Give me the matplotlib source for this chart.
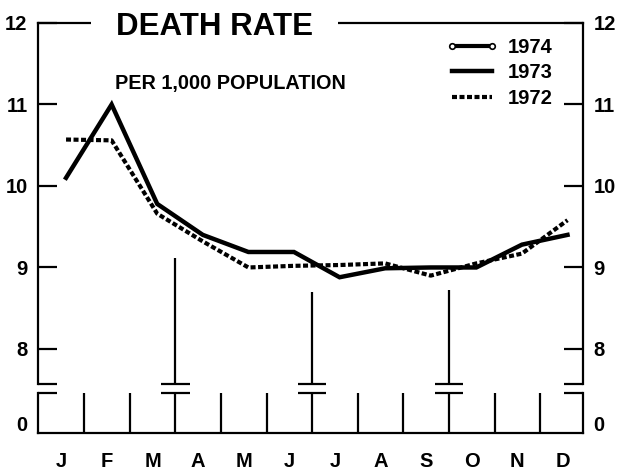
import numpy as np
import matplotlib
matplotlib.use("Agg")
import matplotlib.pyplot as plt
from matplotlib.lines import Line2D

# chart data
months = ["J", "F", "M", "A", "M", "J", "J", "A", "S", "O", "N", "D"]
rate_1973 = [10.1, 11.0, 9.78, 9.4, 9.19, 9.19, 8.88, 8.99, 9.0, 9.0, 9.28, 9.4]
rate_1972 = [10.57, 10.56, 9.66, 9.32, 9.0, 9.02, 9.03, 9.05, 8.9, 9.05, 9.17, 9.58]
legend_labels = ["1974", "1973", "1972"]
y_ticks = [8, 9, 10, 11, 12]
quarter_ends = [2, 5, 8]            # month index after which a quarter bar stands
quarter_bar_tops = [9.12, 8.70, 8.72]

plt.rcParams["font.family"] = ["Liberation Sans", "DejaVu Sans"]
plt.rcParams["font.weight"] = "bold"

W, H = 622, 470
fig = plt.figure(figsize=(W / 100, H / 100), dpi=100)
left, right = 38, 583
ax = fig.add_axes([left / W, 1 - 384 / H, (right - left) / W, (384 - 23) / H])
axb = fig.add_axes([left / W, 1 - 433 / H, (right - left) / W, (433 - 393) / H], sharex=ax)

up_lo, up_hi = 7.57, 12
lo_lo, lo_hi = -0.12, 0.37

x = np.arange(len(months))
ax.plot(x + 0.1, rate_1973, color="black", lw=3.2, solid_joinstyle="miter")
ax.plot(x + 0.1, rate_1972, color="black", lw=3.0, linestyle=(0, (1.2, 0.6)),
        dash_capstyle="butt")

ax.set_xlim(-0.515, 11.44)
ax.set_ylim(up_lo, up_hi)
axb.set_ylim(lo_lo, lo_hi)

for a in (ax, axb):
    for s in a.spines.values():
        s.set_linewidth(1.6)
ax.spines["bottom"].set_visible(False)
axb.spines["top"].set_visible(False)

# upper part of the broken axis
ax.set_yticks(y_ticks)
ax.set_yticks([up_lo], minor=True)
ax.tick_params(axis="y", which="both", direction="in", length=14, width=1.6,
               left=True, right=True, labelleft=True, labelright=True,
               labelsize=14.5, pad=7.5)
ax.tick_params(axis="x", which="both", bottom=False, labelbottom=False)

# lower part with the zero
axb.set_yticks([0])
axb.set_yticks([lo_hi], minor=True)
axb.tick_params(axis="y", which="major", length=0, left=True, right=True,
                labelleft=True, labelright=True, labelsize=14.5, pad=7.5)
axb.tick_params(axis="y", which="minor", direction="in", length=14, width=1.6,
                left=True, right=True)
axb.set_xticks(x)
axb.set_xticklabels(months)
axb.tick_params(axis="x", which="both", length=0, pad=14, labelsize=14.5)

# month separators and quarter bars
axb.vlines(x[:-1] + 0.5, lo_lo, lo_hi, color="black", lw=1.6)
q = np.array(quarter_ends) + 0.5
ax.vlines(q, up_lo, quarter_bar_tops, color="black", lw=1.6)
ax.hlines([up_lo] * len(q), q - 0.31, q + 0.31, color="black", lw=1.6, clip_on=False)
axb.hlines([lo_hi] * len(q), q - 0.31, q + 0.31, color="black", lw=1.6, clip_on=False)

# titles
fig.text(214 / W, 1 - 35 / H, "DEATH RATE", ha="center", va="baseline", fontsize=22.5,
         bbox=dict(boxstyle="square,pad=0.8", facecolor="white", edgecolor="none"))
fig.text(115 / W, 1 - 89 / H, "PER 1,000 POPULATION", ha="left", va="baseline",
         fontsize=14.3)

handles = [
    Line2D([], [], color="black", lw=3, marker="o", ms=4, mfc="white", mew=1.2),
    Line2D([], [], color="black", lw=3.2),
    Line2D([], [], color="black", lw=3.0, linestyle=(0, (1.2, 0.6))),
]
fig.legend(handles, legend_labels, loc="upper right", bbox_to_anchor=(553 / W, 1 - 38 / H),
           frameon=False, fontsize=14.5, handlelength=2.6, handletextpad=0.5,
           labelspacing=0.32, borderpad=0, borderaxespad=0, numpoints=2)

fig.savefig("out.png", dpi=100)
